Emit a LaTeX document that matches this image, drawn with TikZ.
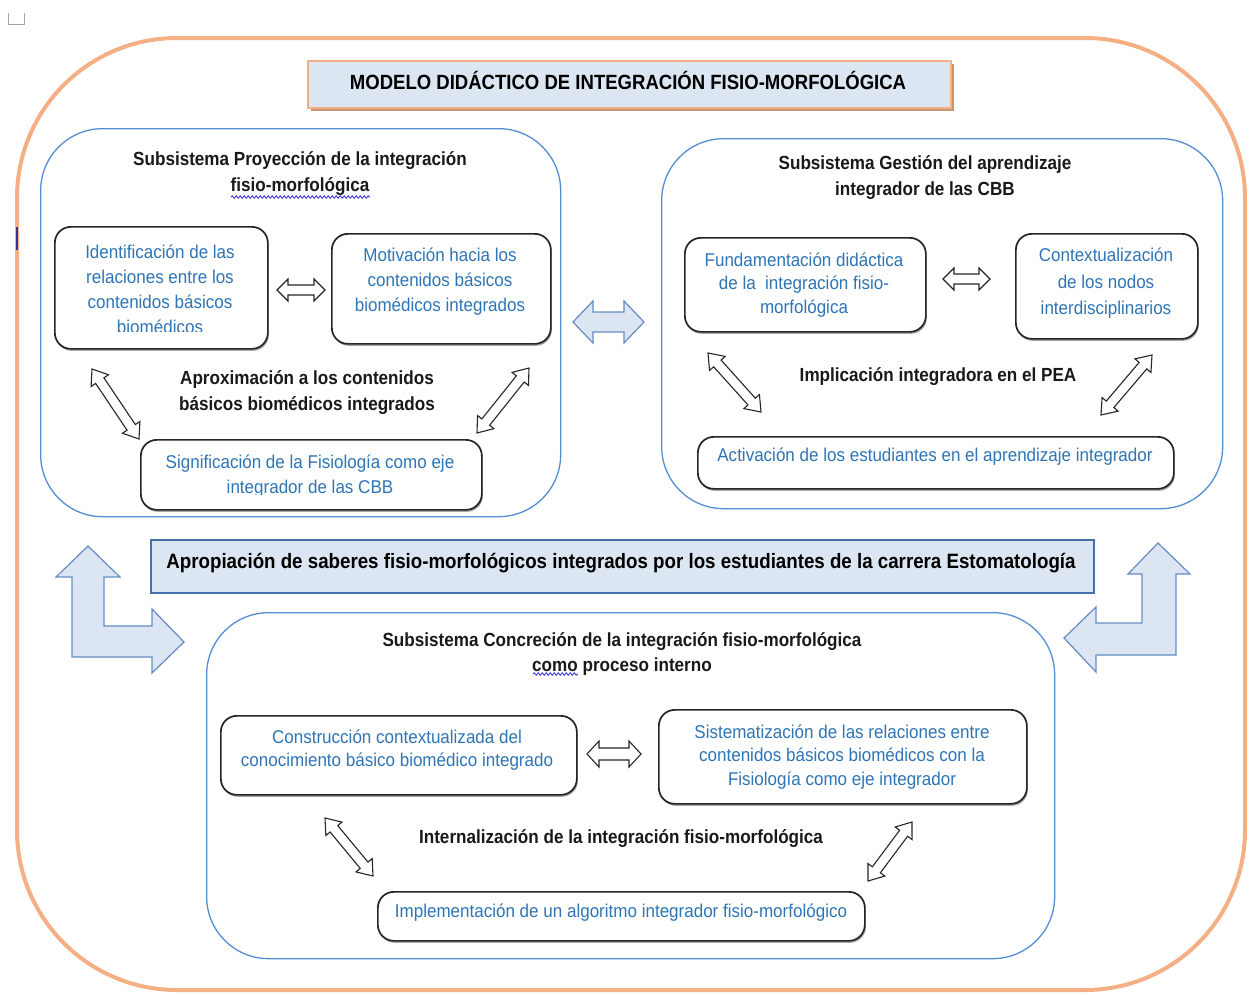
\documentclass[tikz,border=0pt]{standalone}
\usepackage{fontspec}
\setmainfont{Liberation Sans}
\newfontfamily\nfont[FakeStretch=0.92]{Liberation Sans}
\newfontfamily\kfont[FakeStretch=0.9]{Liberation Sans}
\usetikzlibrary{calc,shadows,decorations.pathmorphing}
\definecolor{txtblue}{RGB}{46,117,182}
\definecolor{subblue}{RGB}{84,141,212}
\definecolor{orng}{RGB}{244,176,132}
\definecolor{lblue}{RGB}{220,230,242}
\definecolor{arrblue}{RGB}{100,140,195}
\definecolor{tshadow}{RGB}{200,150,118}
\definecolor{wavy}{RGB}{70,60,210}
\newcommand\hollowarrow[6][]{%
 \path[#1] (#2)
 -- ($($(#2)!#6!(#3)$)!#5!90:(#3)$)
 -- ($($(#2)!#6!(#3)$)!#4!90:(#3)$)
 -- ($($(#3)!#6!(#2)$)!#4!-90:(#2)$)
 -- ($($(#3)!#6!(#2)$)!#5!-90:(#2)$)
 -- (#3)
 -- ($($(#3)!#6!(#2)$)!#5!90:(#2)$)
 -- ($($(#3)!#6!(#2)$)!#4!90:(#2)$)
 -- ($($(#2)!#6!(#3)$)!#4!-90:(#3)$)
 -- ($($(#2)!#6!(#3)$)!#5!-90:(#3)$)
 -- cycle;}
\tikzset{
 subsys/.style={draw=subblue, line width=1.3pt, rounded corners=62pt, anchor=north west, inner sep=0pt},
 innerbox/.style={draw=black!85, line width=1.7pt, rounded corners=16pt, fill=white, anchor=north west, inner sep=0pt,
   drop shadow={shadow xshift=1pt, shadow yshift=-2pt, opacity=.35, fill=black}},
 btext/.style={font=\nfont\fontsize{18.5}{25}\selectfont, text=txtblue, align=center, inner sep=0pt},
 ktext/.style={font=\kfont\bfseries\fontsize{19}{26}\selectfont, text=black!90, align=center, inner sep=0pt},
 hollow/.style={draw=black!85, line width=1.1pt, fill=white, line join=miter},
 bigarrow/.style={draw=arrblue, line width=1.2pt, fill=lblue},
 wavyline/.style={draw=wavy, line width=0.9pt, decorate, decoration={snake, amplitude=1.2pt, segment length=4pt}},
}
\begin{document}
\begin{tikzpicture}[x=1pt,y=-1pt]
\useasboundingbox (0,0) rectangle (1253,994);
% page marks
\draw[gray!70, line width=0.8pt] (8,13) -- (8,24) -- (24,24) -- (24,13);
% outer frame
\draw[orng, line width=4pt, rounded corners=160pt] (17,38) rectangle (1245,990);
\draw[black!40!blue!60!gray, line width=1.3pt] (17,227) -- (17,250);
% title
\node[draw=orng, line width=1.5pt, fill=lblue, minimum width=643pt, minimum height=47pt, anchor=north west, inner sep=0pt,
  drop shadow={shadow xshift=3pt, shadow yshift=-3.5pt, fill=tshadow, opacity=1}] (title) at (307,60) {};
\node[font=\kfont\bfseries\fontsize{20.6}{24}\selectfont, inner sep=0pt] (titletext) at (628,80) {MODELO DIDÁCTICO DE INTEGRACIÓN FISIO-MORFOLÓGICA};
% subsystem 1
\node[subsys, minimum width=520pt, minimum height=388pt] (S1) at (40,128) {};
\node[ktext] (S1t) at (300,174) {Subsistema Proyección de la integración\\fisio-morfológica};
\draw[wavyline] (231,197) -- (370,197);
\node[innerbox, minimum width=213pt, minimum height=122pt] (A1) at (54,226) {};
\begin{scope}
\clip (54,226) rectangle (267,331);
\node[btext] (A1t) at (160,289) {Identificación de las\\relaciones entre los\\contenidos básicos\\biomédicos};
\end{scope}
\node[innerbox, minimum width=219pt, minimum height=110pt] (A2) at (331,233) {};
\node[btext] (A2t) at (440,282) {Motivación hacia los\\contenidos básicos\\biomédicos integrados};
\node[innerbox, minimum width=341pt, minimum height=70pt] (A3) at (140,439) {};
\begin{scope}
\clip (140,439) rectangle (481,494);
\node[btext] (A3t) at (310,476) {Significación de la Fisiología como eje\\integrador de las CBB};
\end{scope}
\node[ktext] (A0t) at (307,393) {Aproximación a los contenidos\\básicos biomédicos integrados};
\coordinate (a12s) at (277,290); \coordinate (a12e) at (325,290);
\coordinate (a13s) at (92,369); \coordinate (a13e) at (139,439);
\coordinate (a23s) at (529,368); \coordinate (a23e) at (477,433);
\hollowarrow[hollow]{a12s}{a12e}{5pt}{11pt}{11pt}
\hollowarrow[hollow]{a13s}{a13e}{5pt}{10.5pt}{14pt}
\hollowarrow[hollow]{a23s}{a23e}{5pt}{10.5pt}{14pt}
% big arrow between subsystems 1 and 2
\coordinate (b12s) at (573,322); \coordinate (b12e) at (644,322);
\hollowarrow[bigarrow]{b12s}{b12e}{10pt}{21pt}{20pt}
% subsystem 2
\node[subsys, minimum width=561pt, minimum height=370pt] (S2) at (661,138) {};
\node[ktext] (S2t) at (925,177.5) {Subsistema Gestión del aprendizaje\\integrador de las CBB};
\node[innerbox, minimum width=241pt, minimum height=94pt] (B1) at (684,237) {};
\node[btext, font=\nfont\fontsize{18.5}{23.5}\selectfont] (B1t) at (804,285) {Fundamentación didáctica\\de la~ integración fisio-\\morfológica};
\node[innerbox, minimum width=182pt, minimum height=105pt] (B2) at (1015,233) {};
\node[btext, font=\nfont\fontsize{18.5}{26.5}\selectfont] (B2t) at (1106,283.5) {Contextualización\\de los nodos\\interdisciplinarios};
\node[innerbox, minimum width=476pt, minimum height=52pt] (B3) at (697,436) {};
\node[btext] (B3t) at (935,457) {Activación de los estudiantes en el aprendizaje integrador};
\node[ktext] (B0t) at (938,377) {Implicación integradora en el PEA};
\coordinate (b12as) at (943,279); \coordinate (b12ae) at (990,279);
\coordinate (b13s) at (708,353); \coordinate (b13e) at (761,412);
\coordinate (b23s) at (1152,355); \coordinate (b23e) at (1101,415);
\hollowarrow[hollow]{b12as}{b12ae}{5pt}{11pt}{11pt}
\hollowarrow[hollow]{b13s}{b13e}{5pt}{10.5pt}{14pt}
\hollowarrow[hollow]{b23s}{b23e}{5pt}{10.5pt}{14pt}
% banner
\node[draw=subblue!80!black, line width=1.5pt, fill=lblue, minimum width=943pt, minimum height=53pt, anchor=north west, inner sep=0pt] (banner) at (150,539) {};
\node[font=\kfont\bfseries\fontsize{20.8}{24}\selectfont, inner sep=0pt] (bannertext) at (621,563) {Apropiación de saberes fisio-morfológicos integrados por los estudiantes de la carrera Estomatología};
% bent arrows
\path[bigarrow] (88,546) -- (120,577) -- (104,577) -- (104,626) -- (152,626) -- (152,609) -- (184,642) -- (152,673) -- (152,657) -- (72,657) -- (72,577) -- (56,577) -- cycle;
\path[bigarrow] (1158,543) -- (1190,574) -- (1176,574) -- (1176,655) -- (1096,655) -- (1096,672) -- (1064,638) -- (1096,607) -- (1096,623) -- (1142,623) -- (1142,574) -- (1128,574) -- cycle;
% subsystem 3
\node[subsys, minimum width=848pt, minimum height=346pt] (S3) at (206,612) {};
\node[ktext, font=\kfont\bfseries\fontsize{19}{25}\selectfont] (S3t) at (622,653.5) {Subsistema Concreción de la integración fisio-morfológica\\como proceso interno};
\draw[wavyline] (533,674) -- (578,674);
\node[innerbox, minimum width=356pt, minimum height=79pt] (C1) at (220,715) {};
\node[btext, font=\nfont\fontsize{18.5}{22.5}\selectfont] (C1t) at (397,750) {Construcción contextualizada del\\conocimiento básico biomédico integrado};
\node[innerbox, minimum width=368pt, minimum height=94pt] (C2) at (658,709) {};
\node[btext, font=\nfont\fontsize{18.5}{23.5}\selectfont] (C2t) at (842,757) {Sistematización de las relaciones entre\\contenidos básicos biomédicos con la\\Fisiología como eje integrador};
\node[innerbox, minimum width=487pt, minimum height=49pt] (C3) at (377,891) {};
\node[btext] (C3t) at (621,913) {Implementación de un algoritmo integrador fisio-morfológico};
\node[ktext] (C0t) at (621,839) {Internalización de la integración fisio-morfológica};
\coordinate (c12s) at (587,754); \coordinate (c12e) at (641,754);
\coordinate (c13s) at (325,818); \coordinate (c13e) at (373,876);
\coordinate (c23s) at (912,822); \coordinate (c23e) at (868,881);
\hollowarrow[hollow]{c12s}{c12e}{6pt}{13pt}{12pt}
\hollowarrow[hollow]{c13s}{c13e}{5pt}{10.5pt}{14pt}
\hollowarrow[hollow]{c23s}{c23e}{5pt}{10.5pt}{14pt}
\end{tikzpicture}
\end{document}
